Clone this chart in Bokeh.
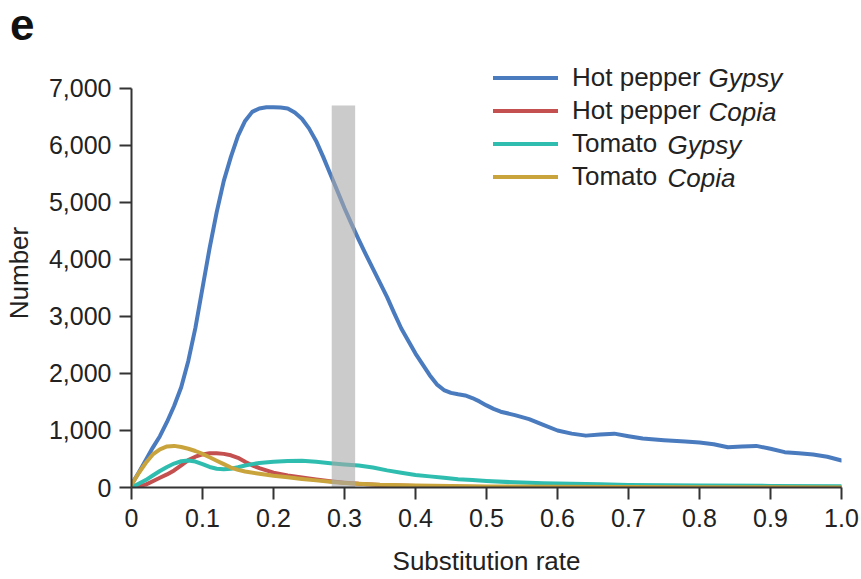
from bokeh.plotting import figure
from bokeh.layouts import column
from bokeh.models import Range1d, FixedTicker, NumeralTickFormatter, Legend, LegendItem, Label, Div
from bokeh.embed import file_html
from bokeh.resources import INLINE

# ---------------- data ----------------
hp_gypsy_x = [0.00, 0.01, 0.02, 0.03, 0.04, 0.05, 0.06, 0.07, 0.08, 0.09, 0.10, 0.11, 0.12, 0.13,
              0.14, 0.15, 0.16, 0.17, 0.18, 0.19, 0.20, 0.21, 0.22, 0.23, 0.24, 0.25, 0.26, 0.27,
              0.28, 0.29, 0.30, 0.31, 0.32, 0.33, 0.34, 0.35, 0.36, 0.37, 0.38, 0.39, 0.40, 0.41,
              0.42, 0.43, 0.44, 0.45, 0.46, 0.47, 0.48, 0.49, 0.50, 0.51, 0.52, 0.54, 0.56, 0.58,
              0.60, 0.62, 0.64, 0.66, 0.68, 0.70, 0.72, 0.75, 0.78, 0.80, 0.82, 0.84, 0.86, 0.88,
              0.90, 0.92, 0.94, 0.96, 0.98, 1.00]
hp_gypsy_y = [50, 260, 480, 700, 900, 1150, 1430, 1760, 2220, 2800, 3500, 4200, 4830, 5380,
              5800, 6170, 6430, 6590, 6650, 6670, 6670, 6665, 6650, 6580, 6470, 6300, 6080, 5800,
              5500, 5200, 4900, 4620, 4350, 4090, 3840, 3590, 3340, 3060, 2790, 2570, 2350, 2160,
              1970, 1810, 1710, 1660, 1635, 1615, 1570, 1510, 1440, 1380, 1330, 1270, 1200, 1100,
              1000, 945, 910, 930, 945, 900, 860, 830, 805, 790, 760, 705, 720, 730,
              680, 620, 600, 580, 540, 474]

hp_copia_x = [0.00, 0.02, 0.03, 0.04, 0.05, 0.06, 0.07, 0.08, 0.09, 0.10, 0.11, 0.12, 0.13, 0.14,
              0.15, 0.16, 0.17, 0.18, 0.19, 0.20, 0.22, 0.24, 0.26, 0.28, 0.30, 0.32, 0.35, 0.40,
              0.45, 0.50, 0.60, 0.70, 0.80, 0.90, 1.00]
hp_copia_y = [0, 50, 110, 170, 230, 300, 390, 480, 540, 580, 600, 600, 590, 565,
              520, 450, 390, 340, 300, 260, 210, 175, 140, 110, 85, 65, 45, 25,
              15, 10, 5, 3, 2, 1, 0]

tm_gypsy_x = [0.00, 0.02, 0.03, 0.04, 0.05, 0.06, 0.07, 0.08, 0.09, 0.10, 0.11, 0.12, 0.13, 0.14,
              0.15, 0.16, 0.17, 0.18, 0.20, 0.22, 0.24, 0.26, 0.28, 0.30, 0.32, 0.34, 0.36, 0.38,
              0.40, 0.42, 0.44, 0.46, 0.48, 0.50, 0.54, 0.58, 0.62, 0.66, 0.70, 0.80, 0.90, 1.00]
tm_gypsy_y = [0, 130, 210, 290, 360, 420, 460, 475, 455, 410, 360, 330, 320, 330,
              355, 385, 410, 430, 450, 465, 470, 450, 425, 405, 385, 350, 300, 260,
              220, 195, 170, 145, 130, 115, 90, 75, 65, 55, 45, 35, 28, 20]

tm_copia_x = [0.00, 0.01, 0.02, 0.03, 0.04, 0.05, 0.06, 0.07, 0.08, 0.09, 0.10, 0.11, 0.12, 0.13,
              0.14, 0.15, 0.16, 0.18, 0.20, 0.22, 0.24, 0.26, 0.28, 0.30, 0.32, 0.35, 0.40, 0.45,
              0.50, 0.60, 0.70, 0.80, 0.90, 1.00]
tm_copia_y = [50, 250, 430, 580, 670, 720, 730, 710, 680, 640, 590, 530, 470, 410,
              350, 310, 280, 240, 205, 180, 150, 125, 100, 80, 65, 48, 35, 25,
              18, 12, 8, 5, 3, 2]

band_left = [0.282]
band_right = [0.315]
band_top = [6700]

series_plain = ["Hot pepper", "Hot pepper", "Tomato", "Tomato"]
series_italic = ["Gypsy", "Copia", "Gypsy", "Copia"]
series_colors = ["#4a7bbf", "#c4504f", "#2fbdb0", "#c9a33c"]

x_ticks = [0, 0.1, 0.2, 0.3, 0.4, 0.5, 0.6, 0.7, 0.8, 0.9, 1.0]
x_tick_labels = ["0", "0.1", "0.2", "0.3", "0.4", "0.5", "0.6", "0.7", "0.8", "0.9", "1.0"]
y_ticks = [0, 1000, 2000, 3000, 4000, 5000, 6000, 7000]
panel_letter = "e"

FONT = "Liberation Sans"
TXT = "#222222"
AX = "#333333"

# ---------------- header with panel letter ----------------
head = Div(text=panel_letter, width=861, height=58, margin=0,
           styles={"font-family": FONT, "font-size": "44px", "font-weight": "bold",
                   "line-height": "50px", "color": "#111111", "padding-left": "10px",
                   "padding-top": "0px", "margin": "0px"})

# ---------------- main plot ----------------
p = figure(width=861, height=521, output_backend="svg", toolbar_location=None,
           x_range=Range1d(0, 1.0), y_range=Range1d(0, 7526),
           min_border_left=131, min_border_right=20, min_border_top=0, min_border_bottom=92)
p.outline_line_color = None
p.xgrid.visible = False
p.ygrid.visible = False
p.background_fill_color = "white"

series = [(hp_gypsy_x, hp_gypsy_y), (hp_copia_x, hp_copia_y),
          (tm_gypsy_x, tm_gypsy_y), (tm_copia_x, tm_copia_y)]
renderers = []
for (xs, ys), c in zip(series, series_colors):
    r = p.line(xs, ys, line_color=c, line_width=4, line_join="round", line_cap="round")
    renderers.append(r)

# highlighted band (drawn on top, semi-transparent)
p.quad(left=band_left, right=band_right, bottom=[0], top=band_top,
       fill_color="#a9a9a9", fill_alpha=0.6, line_color=None)

# axes
for ax in (p.xaxis, p.yaxis):
    ax.axis_line_color = AX
    ax.axis_line_width = 2
    ax.major_tick_line_color = AX
    ax.major_tick_line_width = 2
    ax.major_tick_out = 12
    ax.major_tick_in = 0
    ax.minor_tick_line_color = None
    ax.major_label_text_font = FONT
    ax.major_label_text_font_size = "25px"
    ax.major_label_text_color = TXT
    ax.axis_label_text_font = FONT
    ax.axis_label_text_font_size = "26px"
    ax.axis_label_text_font_style = "normal"
    ax.axis_label_text_color = TXT

p.xaxis.ticker = FixedTicker(ticks=x_ticks)
p.xaxis.major_label_overrides = {t: l for t, l in zip(x_ticks, x_tick_labels)}
p.xaxis.bounds = (0, 1.0)
p.xaxis.axis_label = "Substitution rate"
p.xaxis.major_label_standoff = 9
p.xaxis.axis_label_standoff = 16

p.yaxis.ticker = FixedTicker(ticks=y_ticks)
p.yaxis.formatter = NumeralTickFormatter(format="0,0")
p.yaxis.bounds = (0, 7000)
p.yaxis.axis_label = "Number"
p.yaxis.major_label_standoff = 8
p.yaxis.axis_label_standoff = 12

# legend
items = [LegendItem(label=lab, renderers=[r]) for lab, r in zip(series_plain, renderers)]
legend = Legend(items=items, location=(362, 295), orientation="vertical",
                padding=0, margin=0, spacing=2, glyph_width=65, glyph_height=31,
                label_height=31, label_standoff=14,
                label_text_font=FONT, label_text_font_size="26px", label_text_color=TXT,
                background_fill_alpha=0, border_line_color=None)
p.add_layout(legend)

row_y = [410, 376, 343, 310]
italic_x = [577, 577, 536, 536]
for txt, xx, yy in zip(series_italic, italic_x, row_y):
    p.add_layout(Label(x=xx, y=yy, x_units="screen", y_units="screen", text=txt,
                       text_font=FONT, text_font_size="26px", text_font_style="italic",
                       text_color=TXT, text_baseline="middle", text_align="left"))

layout = column(head, p, spacing=0)
open("out.html", "w").write(file_html(layout, INLINE))
